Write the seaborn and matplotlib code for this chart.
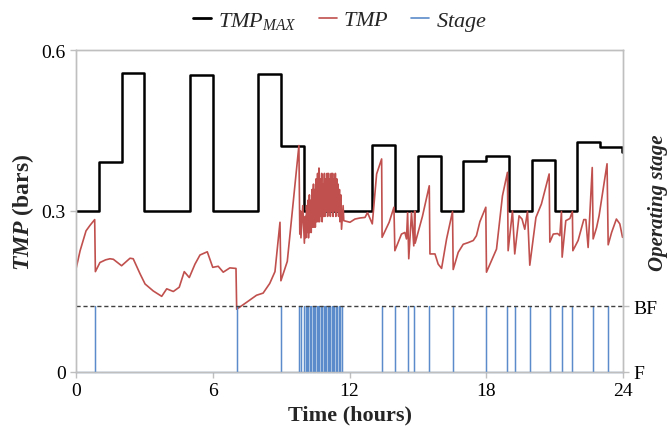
import seaborn as sns
import matplotlib.pyplot as plt

# Seaborn
sns.set_theme(style="ticks")
plt.rcParams["font.family"] = ["Liberation Serif", "DejaVu Serif"]
plt.rcParams["mathtext.fontset"] = "custom"
plt.rcParams["mathtext.rm"] = "Liberation Serif"
plt.rcParams["mathtext.it"] = "Liberation Serif:italic"
plt.rcParams["mathtext.bf"] = "Liberation Serif:bold"
plt.rcParams["mathtext.bfit"] = "Liberation Serif:bold:italic"

# TMP_MAX set-point (step changes, hours)
tmpmax_time = [0, 1, 2, 3, 5, 6, 8, 9, 10, 13, 14, 15, 16, 17, 18, 19, 20, 21, 22, 23, 23.95, 24]
tmpmax_value = [0.3, 0.392, 0.557, 0.3, 0.554, 0.3, 0.556, 0.422, 0.3, 0.423, 0.3, 0.402, 0.3,
                0.394, 0.402, 0.3, 0.395, 0.3, 0.428, 0.419, 0.41, 0.41]

# measured TMP
tmp_time = [0.00, 0.18, 0.44, 0.61, 0.82, 0.85, 1.05, 1.30, 1.49, 1.64, 2.00, 2.37, 2.51, 2.81,
            3.03, 3.39, 3.76, 3.98, 4.27, 4.53, 4.75, 4.97, 5.22, 5.44, 5.76, 6.00, 6.24, 6.46,
            6.75, 7.02, 7.05, 7.49, 7.92, 8.21, 8.50, 8.73, 8.95, 8.99, 9.27, 9.78, 9.82,
            9.85, 9.87, 9.95, 10.02, 10.06, 10.08, 10.12, 10.14, 10.18, 10.20, 10.24, 10.26,
            10.30, 10.32, 10.36, 10.38, 10.42, 10.44, 10.48, 10.50, 10.54, 10.56, 10.60, 10.62,
            10.66, 10.68, 10.72, 10.74, 10.78, 10.80, 10.84, 10.86, 10.90, 10.92, 10.96, 10.98,
            11.02, 11.04, 11.08, 11.10, 11.14, 11.16, 11.20, 11.22, 11.26, 11.28, 11.32, 11.34,
            11.38, 11.40, 11.44, 11.46, 11.50, 11.52, 11.56, 11.58, 11.62, 11.65, 11.72, 11.75,
            12.02, 12.24, 12.46, 12.68, 12.79, 13.00, 13.19, 13.41, 13.43, 13.74, 13.95, 13.99,
            14.28, 14.43, 14.50, 14.55, 14.60, 14.72, 14.82, 14.86, 14.88, 15.20, 15.50, 15.53,
            15.75, 15.89, 16.04, 16.26, 16.52, 16.55, 16.77, 16.99, 17.20, 17.43, 17.57, 17.72,
            17.98, 18.01, 18.45, 18.71, 18.93, 18.96, 19.15, 19.25, 19.44, 19.57, 19.69, 19.81,
            19.91, 20.18, 20.42, 20.76, 20.79, 20.94, 21.13, 21.23, 21.30, 21.33, 21.49, 21.67,
            21.78, 21.80, 22.03, 22.28, 22.37, 22.47, 22.65, 22.69, 22.84, 22.95, 23.30, 23.35,
            23.50, 23.71, 23.86, 23.98]
tmp_value = [0.192, 0.226, 0.263, 0.273, 0.284, 0.187, 0.204, 0.209, 0.211, 0.210, 0.198, 0.212,
             0.211, 0.183, 0.164, 0.151, 0.141, 0.155, 0.150, 0.158, 0.187, 0.176, 0.201, 0.218,
             0.224, 0.195, 0.197, 0.186, 0.194, 0.193, 0.117, 0.130, 0.143, 0.147, 0.165, 0.187,
             0.279, 0.170, 0.206, 0.422, 0.257,
             0.30, 0.25, 0.31, 0.24, 0.29, 0.25, 0.31, 0.26, 0.32, 0.25, 0.33, 0.26,
             0.32, 0.26, 0.34, 0.27, 0.35, 0.27, 0.34, 0.27, 0.36, 0.28, 0.37, 0.28,
             0.38, 0.28, 0.36, 0.29, 0.37, 0.28, 0.35, 0.29, 0.37, 0.29, 0.36, 0.30,
             0.37, 0.29, 0.37, 0.30, 0.36, 0.29, 0.37, 0.30, 0.37, 0.29, 0.36, 0.30,
             0.37, 0.29, 0.36, 0.30, 0.35, 0.29, 0.34, 0.28, 0.33, 0.266, 0.310, 0.282,
             0.279, 0.285, 0.287, 0.288, 0.297, 0.276, 0.369, 0.397, 0.251, 0.279, 0.307, 0.226,
             0.257, 0.260, 0.248, 0.297, 0.211, 0.297, 0.235, 0.300, 0.240, 0.290, 0.347, 0.220,
             0.220, 0.201, 0.193, 0.248, 0.299, 0.191, 0.223, 0.238, 0.241, 0.245, 0.254, 0.280,
             0.307, 0.186, 0.229, 0.328, 0.372, 0.226, 0.300, 0.220, 0.291, 0.285, 0.266, 0.299,
             0.199, 0.288, 0.313, 0.369, 0.242, 0.257, 0.258, 0.254, 0.299, 0.214, 0.282, 0.286,
             0.299, 0.226, 0.245, 0.284, 0.284, 0.232, 0.381, 0.248, 0.269, 0.291, 0.388, 0.237,
             0.260, 0.285, 0.276, 0.251]

# backflush (BF) events, hours
bf_times = [0.85, 7.05, 8.98, 9.80, 9.87, 10.02, 10.08, 10.14, 10.20, 10.26, 10.32, 10.38, 10.44,
            10.50, 10.56, 10.62, 10.68, 10.74, 10.80, 10.86, 10.92, 10.98, 11.04, 11.10, 11.16,
            11.22, 11.28, 11.34, 11.40, 11.46, 11.52, 11.58, 11.65, 13.43, 13.98, 14.58, 14.84,
            15.50, 16.55, 18.01, 18.93, 19.24, 19.91, 20.79, 21.32, 21.77, 22.69, 23.32]

# stage series: 0 = filtration (F), 1 = backflush (BF)
stage_t, stage_v = [0], [0]
for t in bf_times:
    stage_t += [t, t, t]
    stage_v += [0, 1, 0]
stage_t.append(24)
stage_v.append(0)

red = "#C0504D"
blue = "#5B8BCB"
grey = "#BFBFBF"

fig = plt.figure(figsize=(6.69, 4.35), dpi=100)
ax = fig.add_axes([76 / 669, 1 - 373 / 435, 547 / 669, 322 / 435])

sns.lineplot(x=tmpmax_time, y=tmpmax_value, drawstyle="steps-post", color="black", lw=1.8,
             estimator=None, ax=ax)
sns.lineplot(x=tmp_time, y=tmp_value, color=red, lw=1.2, sort=False, estimator=None, ax=ax)

ax2 = ax.twinx()
sns.lineplot(x=stage_t, y=stage_v, color=blue, lw=0.9, sort=False, estimator=None, ax=ax2,
             clip_on=False)
ax2.axhline(1, color="#404040", ls=(0, (3, 2)), lw=1)

# ✨ Aesthetic ✨
ax.set_xlim(0, 24)
ax.set_ylim(0, 0.6)
ax.set_xticks([0, 6, 12, 18, 24])
ax.set_yticks([0, 0.3, 0.6])
ax.set_yticklabels(["0", "0.3", "0.6"])
ax2.set_ylim(0, 4.88)
ax2.set_yticks([0, 1])
ax2.set_yticklabels(["F", "BF"])

for a in (ax, ax2):
    for s in a.spines.values():
        s.set_color(grey)
        s.set_linewidth(1)
    a.tick_params(colors=grey, labelcolor="black", labelsize=14, length=4, width=1)

ax.set_xlabel("Time (hours)", fontweight="bold", fontsize=16)
ax.set_ylabel(r"$\mathbfit{TMP}$ (bars)", fontweight="bold", fontsize=17)
ax2.set_ylabel("Operating stage", fontweight="bold", fontstyle="italic", fontsize=15)
ax2.yaxis.set_label_coords(1.045, 0.53)

# LEGEND
handles = [
    plt.Line2D([0], [0], color="black", lw=2),
    plt.Line2D([0], [0], color=red, lw=1.2),
    plt.Line2D([0], [0], color=blue, lw=1.2),
]
fig.legend(handles, [r"$\mathit{TMP}_{\mathit{MAX}}$", r"$\mathit{TMP}$", r"$\mathit{Stage}$"],
           loc="center", bbox_to_anchor=(340 / 669, 1 - 22 / 435), ncol=3, frameon=False,
           fontsize=16, handlelength=0.8, handletextpad=0.3, columnspacing=1.0)

plt.savefig("out.png", dpi=100)
